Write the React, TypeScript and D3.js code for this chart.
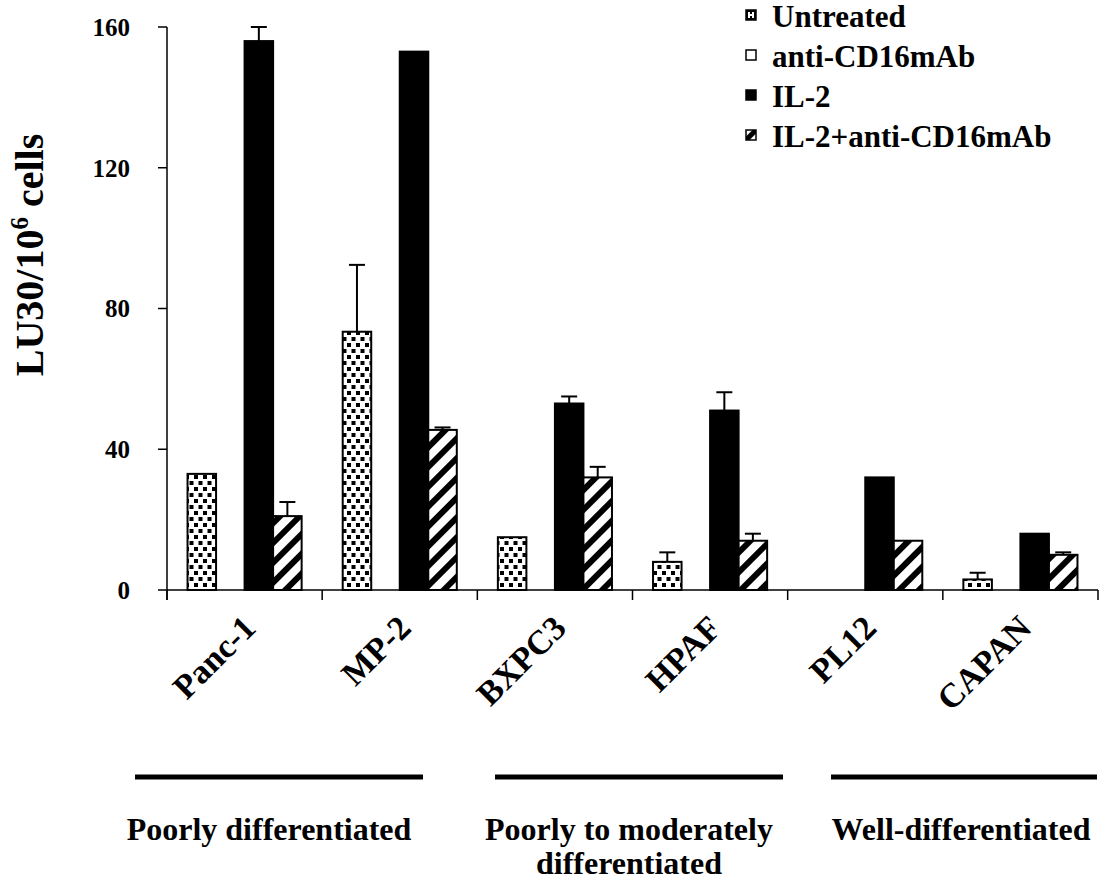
import React from "react";
import * as d3 from "d3";

const categories = ["Panc-1", "MP-2", "BXPC3", "HPAF", "PL12", "CAPAN"];
const seriesNames = ["Untreated", "anti-CD16mAb", "IL-2", "IL-2+anti-CD16mAb"];
const untreated = [33, 73.4, 15, 8, 0, 3];
const untreatedErr = [0, 19, 0, 2.7, 0, 1.9];
const antiCD16: (number | null)[] = [null, null, null, null, null, null];
const antiCD16Err = [0, 0, 0, 0, 0, 0];
const il2 = [156, 153, 53, 51, 32, 16];
const il2Err = [4, 0, 2, 5.2, 0, 0];
const il2Anti = [21, 45.5, 32, 14, 14, 10];
const il2AntiErr = [4, 0.7, 3, 2, 0, 0.7];
const yTicks = [0, 40, 80, 120, 160];
const groupLines = [["Poorly differentiated"], ["Poorly to moderately", "differentiated"], ["Well-differentiated"]];

const W = 1105;
const H = 882;
const TS: React.CSSProperties = { fontFamily: "Liberation Serif", fontWeight: 700 };

const x0 = 167;
const x1 = 1098;
const yBase = 590;
const yTop = 27;

export default function App() {
  const x = d3.scaleBand<string>().domain(categories).range([x0, x1]).paddingInner(0).paddingOuter(0);
  const xs = d3
    .scaleBand<string>()
    .domain(seriesNames)
    .range([0, x.bandwidth()])
    .paddingInner(0)
    .paddingOuter(0.72);
  const y = d3.scaleLinear().domain([0, 160]).range([yBase, yTop]);

  const seriesVals = [untreated, antiCD16, il2, il2Anti];
  const seriesErr = [untreatedErr, antiCD16Err, il2Err, il2AntiErr];
  const fills = ["url(#dots)", "#fff", "#000", "url(#hatch)"];
  const legendFills = ["url(#dotsL)", "#fff", "#000", "url(#hatchL)"];

  const bars: React.ReactNode[] = [];
  const errs: React.ReactNode[] = [];
  categories.forEach((c, ci) => {
    seriesNames.forEach((s, si) => {
      const v = seriesVals[si][ci];
      if (v === null || v === undefined) return;
      const bx = (x(c) as number) + (xs(s) as number);
      const bw = xs.bandwidth();
      bars.push(
        <rect
          key={`b-${ci}-${si}`}
          x={bx}
          y={y(v)}
          width={bw}
          height={yBase - y(v)}
          fill={fills[si]}
          stroke="#000"
          strokeWidth={2}
        />
      );
      const e = seriesErr[si][ci];
      if (e > 0) {
        const cx = bx + bw / 2;
        errs.push(
          <g key={`e-${ci}-${si}`} stroke="#000" strokeWidth={2}>
            <line x1={cx} x2={cx} y1={y(v)} y2={y(v + e)} />
            <line x1={cx - 8} x2={cx + 8} y1={y(v + e)} y2={y(v + e)} />
          </g>
        );
      }
    });
  });

  const boundaries = categories.map((c) => x(c) as number).concat([x1]);
  const groupLineX = [
    [135, 423],
    [495, 783],
    [831, 1097],
  ];
  const groupTextX = [269, 629, 961];

  return (
    <svg
      width={W}
      height={H}
      style={{ position: "absolute", left: 0, top: 0, display: "block", background: "#fff" }}
    >
      <defs>
        <pattern id="dots" patternUnits="userSpaceOnUse" width={9} height={12}>
          <rect width={9} height={12} fill="#fff" />
          <rect x={0.5} y={1} width={4} height={4} fill="#000" />
          <rect x={5} y={7} width={4} height={4} fill="#000" />
        </pattern>
        <pattern id="dotsL" patternUnits="userSpaceOnUse" width={10} height={10} x={746} y={0}>
          <rect width={10} height={10} fill="#000" />
          <rect x={2} y={2} width={2} height={6} fill="#fff" />
          <rect x={6} y={2} width={2} height={6} fill="#fff" />
          <rect x={2} y={4} width={6} height={2} fill="#fff" />
        </pattern>
        <pattern id="hatch" patternUnits="userSpaceOnUse" width={14} height={14} patternTransform="rotate(45)">
          <rect width={14} height={14} fill="#fff" />
          <rect x={0} y={0} width={6} height={14} fill="#000" />
        </pattern>
        <pattern id="hatchL" patternUnits="userSpaceOnUse" width={12} height={12} patternTransform="rotate(45)">
          <rect width={12} height={12} fill="#fff" />
          <rect x={0} y={0} width={5} height={12} fill="#000" />
        </pattern>
      </defs>

      {/* y axis */}
      <line x1={x0} x2={x0} y1={yTop} y2={yBase + 10} stroke="#000" strokeWidth={1.5} />
      {yTicks.map((t) => (
        <g key={`yt-${t}`}>
          <line x1={x0 - 9} x2={x0} y1={y(t)} y2={y(t)} stroke="#000" strokeWidth={1.5} />
          <text x={x0 - 37} y={y(t)} dy="0.35em" textAnchor="end" fontSize={25} style={TS}>
            {t}
          </text>
        </g>
      ))}
      <text transform={`translate(43, 255) rotate(-90)`} textAnchor="middle" fontSize={40} style={TS}>
        LU30/10
        <tspan fontSize={25} dy={-15}>6</tspan>
        <tspan dy={15}> cells</tspan>
      </text>

      {bars}
      {errs}

      {/* x axis */}
      <line x1={x0} x2={x1} y1={yBase} y2={yBase} stroke="#000" strokeWidth={1.5} />
      {boundaries.map((b, i) => (
        <line key={`xt-${i}`} x1={b} x2={b} y1={yBase} y2={yBase + 10} stroke="#000" strokeWidth={1.5} />
      ))}
      {categories.map((c) => {
        const cx = (x(c) as number) + x.bandwidth() / 2;
        return (
          <text
            key={`xl-${c}`}
            transform={`translate(${cx + 13}, 630) rotate(-45)`}
            textAnchor="end"
            fontSize={34}
            style={TS}
          >
            {c}
          </text>
        );
      })}

      {/* groups */}
      {groupLines.map((lines, gi) => (
        <g key={`g-${gi}`}>
          <line x1={groupLineX[gi][0]} x2={groupLineX[gi][1]} y1={777} y2={777} stroke="#000" strokeWidth={5} />
          {lines.map((l, li) => (
            <text key={li} x={groupTextX[gi]} y={840 + li * 34} textAnchor="middle" fontSize={32} style={TS}>
              {l}
            </text>
          ))}
        </g>
      ))}

      {/* legend */}
      {seriesNames.map((s, i) => {
        const by = 27 + i * 40;
        return (
          <g key={`lg-${s}`}>
            <rect
              x={746}
              y={by - 17}
              width={10}
              height={10}
              fill={legendFills[i]}
              stroke="#000"
              strokeWidth={1.5}
            />
            <text x={772} y={by} fontSize={31} style={TS}>
              {s}
            </text>
          </g>
        );
      })}
    </svg>
  );
}
